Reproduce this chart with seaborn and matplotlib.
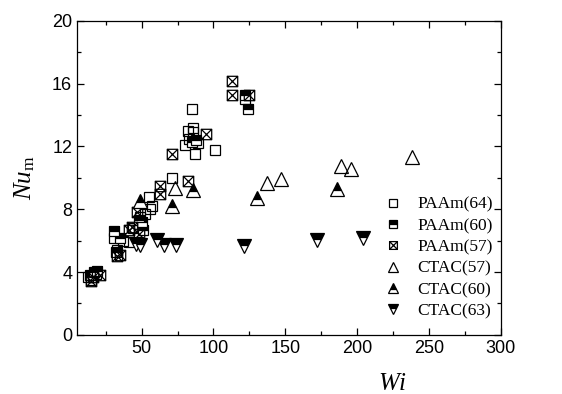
import numpy as np
import pandas as pd
import matplotlib
matplotlib.use("Agg")
import matplotlib.pyplot as plt
import seaborn as sns
from matplotlib.path import Path

# ---- data ----
paam64_x = [13, 15, 18, 31, 33, 37, 41, 44, 49, 52, 55, 56, 57, 70.8, 80, 82, 83, 85, 86, 86, 87, 89, 101, 122]
paam64_y = [3.7, 3.5, 3.9, 6.2, 5.4, 6.0, 5.9, 6.8, 7.5, 7.7, 8.8, 8.0, 8.2, 10.0, 12.1, 13.0, 12.5, 14.4, 13.2, 12.9, 11.55, 12.2, 11.8, 15.0]

paam60_x = [14, 17, 19, 31, 32, 35, 48, 50, 51, 85, 88, 122, 124]
paam60_y = [3.8, 4.0, 4.05, 6.6, 5.3, 6.2, 7.3, 7.2, 6.7, 12.3, 12.4, 15.3, 14.4]

paam57_x = [15, 16, 21, 33, 35, 41, 43, 47, 48, 63, 63, 71, 82, 95, 113, 113, 125]
paam57_y = [3.45, 3.7, 3.8, 5.0, 5.1, 6.7, 6.9, 7.8, 6.4, 9.5, 9.0, 11.55, 9.8, 12.8, 16.15, 15.25, 15.3]

ctac57_x = [73, 137, 147, 189, 196, 238]
ctac57_y = [9.33, 9.7, 9.9, 10.77, 10.54, 11.35]

ctac60_x = [49, 71, 86, 130, 186]
ctac60_y = [8.5, 8.2, 9.2, 8.7, 9.3]

ctac63_x = [46, 49, 61, 65.5, 73.6, 121, 172, 204]
ctac63_y = [5.8, 5.7, 6.05, 5.75, 5.7, 5.65, 6.05, 6.2]

labels = ["PAAm(64)", "PAAm(60)", "PAAm(57)", "CTAC(57)", "CTAC(60)", "CTAC(63)"]

# ---- style ----
sns.set_style("ticks", {"axes.edgecolor": "black", "xtick.color": "black",
                        "ytick.color": "black", "text.color": "black",
                        "axes.labelcolor": "black"})
plt.rcParams["font.family"] = ["Liberation Sans", "DejaVu Sans"]
plt.rcParams["mathtext.fontset"] = "custom"
plt.rcParams["mathtext.rm"] = "Liberation Serif"
plt.rcParams["mathtext.it"] = "Liberation Serif:italic"

fig = plt.figure(figsize=(5.62, 3.94), dpi=100)
ax = fig.add_axes([0.137, 0.150, 0.754, 0.797])

# boxed-X marker
verts = [(-0.5, -0.5), (0.5, -0.5), (0.5, 0.5), (-0.5, 0.5), (-0.5, -0.5),
         (-0.5, -0.5), (0.5, 0.5), (-0.5, 0.5), (0.5, -0.5)]
codes = [Path.MOVETO, Path.LINETO, Path.LINETO, Path.LINETO, Path.CLOSEPOLY,
         Path.MOVETO, Path.LINETO, Path.MOVETO, Path.LINETO]
boxx = Path(verts, codes)

common = dict(estimator=None, sort=False, linestyle="", color="k",
              markeredgecolor="k", markeredgewidth=0.9, ax=ax)

series = [
    (paam64_x, paam64_y, dict(marker="s", markersize=7.5, markerfacecolor="none")),
    (paam60_x, paam60_y, dict(marker="s", markersize=7.5, fillstyle="top",
                              markerfacecolor="k", markerfacecoloralt="white")),
    (paam57_x, paam57_y, dict(marker=boxx, markersize=7.5, markerfacecolor="none")),
    (ctac57_x, ctac57_y, dict(marker="^", markersize=10, markerfacecolor="none")),
    (ctac60_x, ctac60_y, dict(marker="^", markersize=10, fillstyle="top",
                              markerfacecolor="k", markerfacecoloralt="white")),
    (ctac63_x, ctac63_y, dict(marker="v", markersize=10, fillstyle="top",
                              markerfacecolor="k", markerfacecoloralt="white")),
]

for (xs, ys, kw), lab in zip(series, labels):
    df = pd.DataFrame({"Wi": xs, "Nu": ys})
    sns.lineplot(data=df, x="Wi", y="Nu", label=lab, **common, **kw)

ax.set_xlim(5, 300)
ax.set_ylim(0, 20)
ax.set_xticks([50, 100, 150, 200, 250, 300])
ax.set_xticks([25, 75, 125, 175, 225, 275], minor=True)
ax.set_yticks([0, 4, 8, 12, 16, 20])
ax.set_yticks([2, 6, 10, 14, 18], minor=True)
ax.tick_params(which="both", direction="in", top=True, right=True, labelsize=13,
               width=0.9, colors="black")
ax.tick_params(which="major", length=5)
ax.tick_params(which="minor", length=3)
for s in ax.spines.values():
    s.set_linewidth(0.9)
    s.set_color("black")
    s.set_visible(True)

ax.set_xlabel("$Wi$", fontsize=18)
ax.xaxis.set_label_coords(0.745, -0.115)
ax.set_ylabel(r"$Nu_{\rm m}$", fontsize=18)
ax.yaxis.set_label_coords(-0.095, 0.5)

leg = ax.legend(loc="center left", bbox_to_anchor=(0.685, 0.245), frameon=False,
                prop={"family": "Liberation Serif", "size": 12.5},
                handlelength=1.2, handletextpad=0.8, labelspacing=0.3,
                markerscale=0.75)

fig.savefig("out.png", dpi=100)
